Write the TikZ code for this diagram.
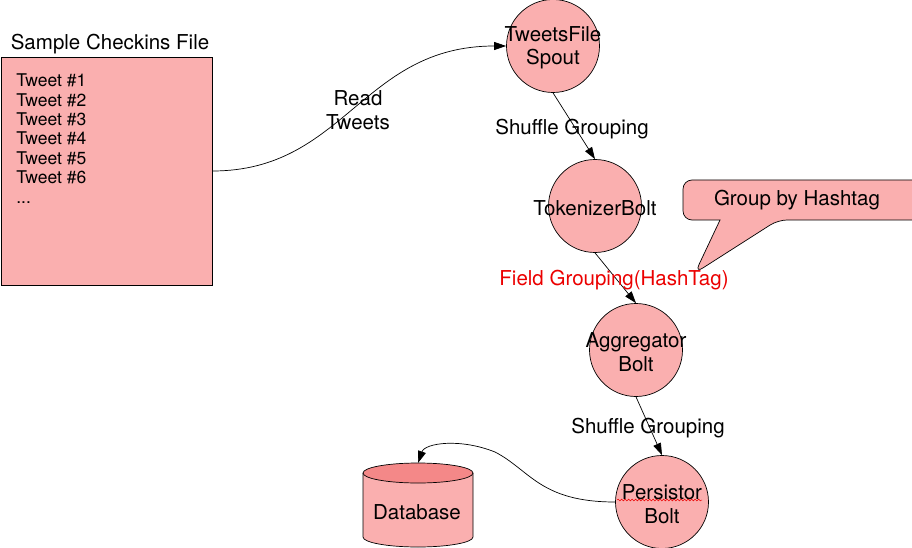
\documentclass[tikz,border=0pt]{standalone}
\usepackage{fontspec}
\setmainfont{TeX Gyre Heros}
\usetikzlibrary{arrows.meta,decorations.pathmorphing}
\definecolor{pinkfill}{RGB}{250,175,175}
\definecolor{dbtopfill}{RGB}{244,136,136}
\definecolor{lblred}{RGB}{235,0,0}
\newcommand\dgfont{\fontsize{20.5pt}{23.5pt}\selectfont}
\newcommand\dgsmall{\fontsize{17.5pt}{19.4pt}\selectfont}
\begin{document}
\begin{tikzpicture}[x=1pt,y=-1pt,
  proc/.style={circle,draw,fill=pinkfill,minimum size=93pt,inner sep=0pt},
  arr/.style={-{Triangle[length=12pt,width=8pt]}},
  lbl/.style={align=center,inner sep=0pt,font=\dgfont,yshift=-2pt},
  line width=0.7pt]
\useasboundingbox (0,0) rectangle (912,548);

% file box
\node[draw,fill=pinkfill,minimum width=211pt,minimum height=228pt,inner sep=0pt] (box) at (106.5,171) {};
\node[lbl] (title) at (110,42) {Sample Checkins File};
\node[inner sep=0pt,anchor=north west,align=left,font=\dgsmall] (tweets) at (16,73.5)
  {Tweet \#1\\Tweet \#2\\Tweet \#3\\Tweet \#4\\Tweet \#5\\Tweet \#6\\...};

% processing nodes
\node[proc] (spout) at (553,46) {};
\node[lbl] (spoutt) at (spout.center) {TweetsFile\\Spout};
\node[proc] (tok) at (595,206) {};
\node[lbl] (tokt) at (tok.center) {TokenizerBolt};
\node[proc] (agg) at (636,350) {};
\node[lbl] (aggt) at (agg.center) {Aggregator\\Bolt};
\node[proc] (per) at (662,502) {};
\node[lbl] (pert) at (per.center) {Persistor\\Bolt};
\draw[lblred,line width=0.5pt,decorate,decoration={snake,amplitude=0.9pt,segment length=3.5pt}]
  (617,500) -- (702,500);

% database
\fill[pinkfill] (363,473) -- (363,537) arc[start angle=180,end angle=360,x radius=55pt,y radius=10pt] -- (473,473) -- cycle;
\draw (363,473) -- (363,537) arc[start angle=180,end angle=360,x radius=55pt,y radius=10pt] -- (473,473);
\filldraw[fill=dbtopfill] (418,473) ellipse[x radius=55pt,y radius=10pt];
\node[lbl] (db) at (417,510) {Database};
\coordinate (dbtop) at (418,463);

% callout
\filldraw[fill=pinkfill,rounded corners=9pt] (720,220) -- (695,273) -- (778,220) [sharp corners]-- (925,220) -- (925,180) [rounded corners=9pt]-- (683,180) -- (683,220) [sharp corners] -- cycle;
\node[lbl] (callout) at (797,198) {Group by Hashtag};

% connectors
\draw[arr] (box.east) .. controls (345,171) and (362,46) .. (spout.west);
\node[lbl] (readlbl) at (358,108) {Read\\Tweets};

\draw[arr] (spout.south) -- (tok.north);
\node[lbl] (sg1) at (572,127) {Shuffle Grouping};

\draw[arr] (tok.south) -- (agg.north);
\node[lbl,text=lblred] (fg) at (614,278) {Field Grouping(HashTag)};

\draw[arr] (agg.south) -- (per.north);
\node[lbl] (sg2) at (648,426) {Shuffle Grouping};

\coordinate (pmid) at (495,452);
\draw[arr] (per.west) .. controls (540,502) and (530,470) .. (pmid) .. controls (460,438) and (425,443) .. (dbtop);
\end{tikzpicture}
\end{document}
